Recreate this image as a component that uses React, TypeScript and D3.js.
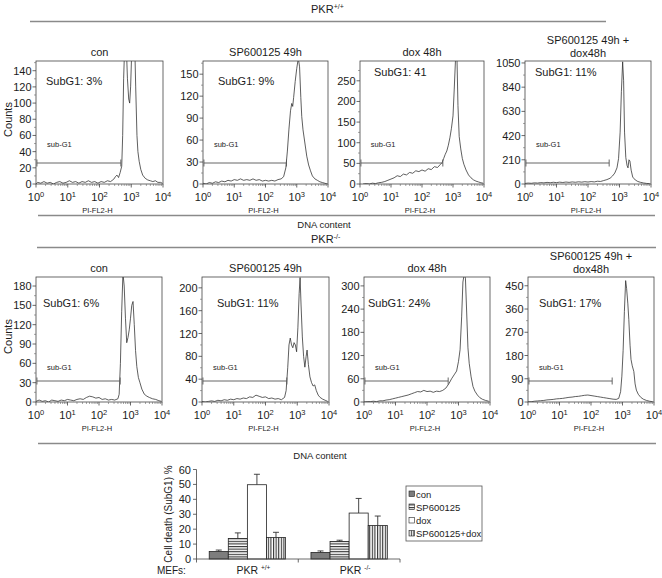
import React from "react";
import * as d3 from "d3";

type Pt = [number, number]; // [log10 PI-FL2-H, counts]

// ---------- Histogram data ----------
const histWtCon: Pt[] = [[0,0],[0.05,2],[0.15,1],[0.25,3],[0.35,1],[0.45,2],[0.55,0],[0.65,2],[0.75,3],[0.85,1],[0.95,2],[1.05,4],[1.15,2],[1.25,3],[1.35,1],[1.45,3],[1.55,2],[1.65,4],[1.75,2],[1.85,3],[1.95,1],[2.05,3],[2.15,2],[2.25,4],[2.35,3],[2.45,6],[2.5,9],[2.55,11],[2.6,8],[2.65,14],[2.7,22],[2.73,60],[2.76,130],[2.8,180],[2.84,175],[2.88,130],[2.92,105],[2.95,100],[2.98,120],[3.02,170],[3.06,200],[3.1,190],[3.14,120],[3.18,60],[3.21,40],[3.25,28],[3.3,18],[3.36,11],[3.44,7],[3.52,5],[3.6,4],[3.68,3],[3.76,4],[3.84,2],[3.92,2],[3.98,1]];
const histWtSp: Pt[] = [[0,1],[0.1,0],[0.2,2],[0.3,1],[0.4,3],[0.5,2],[0.6,4],[0.7,3],[0.8,5],[0.9,4],[1.0,6],[1.1,5],[1.2,7],[1.3,5],[1.4,6],[1.5,5],[1.6,7],[1.7,5],[1.8,6],[1.9,4],[2.0,5],[2.1,4],[2.2,5],[2.3,4],[2.4,6],[2.5,7],[2.58,10],[2.65,22],[2.7,45],[2.75,75],[2.8,100],[2.84,110],[2.87,106],[2.9,118],[2.95,140],[3.0,158],[3.05,172],[3.09,160],[3.13,118],[3.16,92],[3.2,74],[3.26,56],[3.32,38],[3.38,26],[3.44,18],[3.5,11],[3.58,7],[3.66,5],[3.74,3],[3.82,2],[3.9,1],[3.98,0]];
const histWtDox: Pt[] = [[0.1,0],[0.2,1],[0.3,0],[0.4,2],[0.5,1],[0.6,3],[0.7,4],[0.8,6],[0.9,9],[1.0,12],[1.1,15],[1.2,20],[1.3,18],[1.4,24],[1.5,22],[1.6,28],[1.7,26],[1.8,32],[1.9,30],[2.0,34],[2.1,31],[2.2,37],[2.3,35],[2.4,42],[2.5,40],[2.6,48],[2.65,52],[2.7,62],[2.75,72],[2.8,80],[2.85,94],[2.9,112],[2.95,135],[3.0,165],[3.04,230],[3.08,300],[3.1,320],[3.13,300],[3.16,190],[3.2,115],[3.25,85],[3.3,62],[3.35,48],[3.42,34],[3.5,22],[3.58,15],[3.66,10],[3.74,7],[3.82,5],[3.9,3],[3.97,2]];
const histWtSpDox: Pt[] = [[0,5],[0.1,8],[0.2,6],[0.3,10],[0.4,8],[0.5,12],[0.6,10],[0.7,14],[0.8,11],[0.9,15],[1.0,12],[1.1,16],[1.2,13],[1.3,17],[1.4,14],[1.5,18],[1.6,15],[1.7,19],[1.8,16],[1.9,20],[2.0,17],[2.1,21],[2.2,18],[2.3,24],[2.4,22],[2.5,30],[2.6,38],[2.7,50],[2.78,70],[2.85,95],[2.92,140],[2.97,220],[3.02,450],[3.06,800],[3.1,1060],[3.13,900],[3.16,450],[3.2,230],[3.24,160],[3.27,140],[3.3,210],[3.33,200],[3.37,120],[3.42,60],[3.5,35],[3.58,22],[3.66,15],[3.76,9],[3.86,5],[3.96,3]];
const histKoCon: Pt[] = [[0,1],[0.1,3],[0.2,1],[0.3,2],[0.4,0],[0.5,3],[0.6,2],[0.7,1],[0.8,3],[0.9,2],[1.0,4],[1.1,3],[1.2,2],[1.3,4],[1.4,5],[1.5,4],[1.6,7],[1.7,9],[1.8,8],[1.9,6],[2.0,7],[2.1,4],[2.2,5],[2.3,3],[2.4,4],[2.5,3],[2.6,5],[2.64,12],[2.68,60],[2.72,140],[2.76,200],[2.8,180],[2.84,130],[2.88,92],[2.92,100],[2.96,112],[3.0,130],[3.04,150],[3.08,156],[3.12,120],[3.16,80],[3.2,55],[3.25,38],[3.3,30],[3.36,20],[3.44,12],[3.52,9],[3.6,7],[3.7,5],[3.8,4],[3.9,2],[3.98,1]];
const histKoSp: Pt[] = [[0,1],[0.1,0],[0.2,1],[0.3,2],[0.4,1],[0.5,3],[0.6,2],[0.7,4],[0.8,3],[0.9,5],[1.0,4],[1.1,6],[1.2,5],[1.3,7],[1.4,6],[1.5,9],[1.6,8],[1.7,12],[1.8,10],[1.9,8],[2.0,9],[2.1,6],[2.2,7],[2.3,5],[2.4,6],[2.5,4],[2.6,8],[2.65,20],[2.7,60],[2.74,100],[2.78,112],[2.82,100],[2.86,95],[2.9,104],[2.94,100],[2.98,88],[3.02,130],[3.06,190],[3.09,218],[3.12,170],[3.16,114],[3.2,80],[3.24,61],[3.28,80],[3.31,91],[3.35,66],[3.4,44],[3.45,34],[3.5,28],[3.55,30],[3.6,20],[3.66,12],[3.72,8],[3.8,5],[3.88,3],[3.96,1]];
const histKoDox: Pt[] = [[0,0],[0.1,1],[0.2,1],[0.3,2],[0.4,1],[0.5,3],[0.6,3],[0.7,5],[0.8,6],[0.9,8],[1.0,10],[1.1,12],[1.2,14],[1.3,16],[1.4,18],[1.5,21],[1.6,24],[1.7,27],[1.8,26],[1.9,30],[2.0,27],[2.1,28],[2.2,25],[2.3,28],[2.4,27],[2.5,30],[2.6,36],[2.7,48],[2.78,60],[2.86,70],[2.94,80],[3.0,105],[3.05,135],[3.1,220],[3.14,310],[3.18,330],[3.22,320],[3.26,230],[3.3,140],[3.34,100],[3.4,65],[3.46,40],[3.52,28],[3.6,18],[3.68,11],[3.76,7],[3.86,4],[3.96,2]];
const histKoSpDox: Pt[] = [[0,1],[0.1,1],[0.2,3],[0.3,4],[0.4,5],[0.5,6],[0.6,8],[0.7,9],[0.8,10],[0.9,12],[1.0,13],[1.1,14],[1.2,16],[1.3,18],[1.4,19],[1.5,21],[1.6,22],[1.7,24],[1.8,26],[1.9,27],[2.0,25],[2.1,23],[2.2,21],[2.3,19],[2.4,17],[2.5,15],[2.6,13],[2.7,11],[2.8,10],[2.88,14],[2.94,40],[2.98,100],[3.02,200],[3.06,350],[3.1,470],[3.13,440],[3.17,380],[3.2,320],[3.24,220],[3.27,165],[3.31,140],[3.36,118],[3.4,70],[3.44,46],[3.5,30],[3.58,18],[3.66,11],[3.76,6],[3.86,3],[3.96,1]];

// ---------- Panel labels & axes ----------
const panelTitles = [["con"], ["SP600125 49h"], ["dox 48h"], ["SP600125 49h +", "dox48h"]];
const subG1Wt = ["SubG1: 3%", "SubG1: 9%", "SubG1: 41", "SubG1: 11%"];
const subG1Ko = ["SubG1: 6%", "SubG1: 11%", "SubG1: 24%", "SubG1: 17%"];
const yMaxWt = [152, 168, 298, 1067];
const yMaxKo = [194, 219, 323, 484];
const yTicksWt = [[0,20,40,60,80,100,120,140],[0,30,60,90,120,150],[0,50,100,150,200,250],[0,210,420,630,840,1050]];
const yTicksKo = [[0,30,60,90,120,150,180],[0,40,80,120,160,200],[0,60,120,180,240,300],[0,90,180,270,360,450]];
const xTickExponents = [0, 1, 2, 3, 4];
const gateRange = [1.07, 470];
const genotypeSups = ["+/+", "-/-"];

// ---------- Bar chart data ----------
const barGroups = ["wt", "ko"];
const barGroupSups = ["+/+", "-/-"];
const barSeries = ["con", "SP600125", "dox", "SP600125+dox"];
const barValuesWt = [5.0, 13.8, 49.8, 14.4];
const barValuesKo = [4.4, 11.8, 30.8, 22.4];
const barErrWt = [1.0, 3.7, 7.0, 3.5];
const barErrKo = [1.0, 0.8, 9.8, 6.4];
const barYTicks = [0, 10, 20, 30, 40, 50, 60];

const FONT = "'Liberation Sans', Arial, Helvetica, sans-serif";
const TXT = "#1c1c1c";

const rows = [
  { data: [histWtCon, histWtSp, histWtDox, histWtSpDox], yMax: yMaxWt, yTicks: yTicksWt, sub: subG1Wt,
    top: 61, bottom: 184, xs: [36, 203, 360, 525], ws: [127, 125, 124, 126],
    subX: [10, 15, 14, 10], subY: [24, 24, 15, 15], labelDy: 37 },
  { data: [histKoCon, histKoSp, histKoDox, histKoSpDox], yMax: yMaxKo, yTicks: yTicksKo, sub: subG1Ko,
    top: 277, bottom: 402, xs: [36, 202, 364, 528], ws: [126, 127, 126, 126],
    subX: [7, 15, 4, 11], subY: [30, 30, 30, 30], labelDy: 32 },
];

function Histogram(props: any) {
  const { id, x0, w, top, bottom, data, yMax, yTicks, title, subText, subX, subY, labelDy } = props;
  const x = d3.scaleLog().domain([1, 1e4]).range([x0, x0 + w]);
  const y = d3.scaleLinear().domain([0, yMax]).range([bottom, top]);
  const line = d3.line<Pt>().x(d => x(Math.pow(10, d[0]))).y(d => y(d[1]));
  const minorX: number[] = [];
  for (let k = 0; k < 4; k++) for (let m = 2; m < 10; m++) minorX.push(m * Math.pow(10, k));
  const step = yTicks[1] - yTicks[0];
  const minorY: number[] = [];
  for (let v = step / 2; v < yMax; v += step) minorY.push(v);
  const cx = x0 + w / 2;
  const gy = bottom - 21;
  return (
    <g>
      <defs>
        <clipPath id={id}><rect x={x0} y={top} width={w} height={bottom - top} /></clipPath>
      </defs>
      {title.length === 1 ? (
        <text x={cx} y={top - 5} textAnchor="middle" fontSize={11} fill={TXT}>{title[0]}</text>
      ) : (
        <g>
          <text x={cx} y={top - 17} textAnchor="middle" fontSize={11} fill={TXT}>{title[0]}</text>
          <text x={cx} y={top - 4} textAnchor="middle" fontSize={11} fill={TXT}>{title[1]}</text>
        </g>
      )}
      <path d={line(data) || ""} fill="none" stroke="#2a2a2a" strokeWidth={0.75} clipPath={`url(#${id})`} />
      <rect x={x0} y={top} width={w} height={bottom - top} fill="none" stroke="#444" strokeWidth={0.8} />
      {yTicks.map((t: number) => (
        <g key={t}>
          <line x1={x0 - 3.5} x2={x0} y1={y(t)} y2={y(t)} stroke="#444" strokeWidth={0.8} />
          <text x={x0 - 4.5} y={y(t) + 4} textAnchor="end" fontSize={11} fill={TXT}>{t}</text>
        </g>
      ))}
      {minorY.map((t, i) => (
        <line key={i} x1={x0 - 2} x2={x0} y1={y(t)} y2={y(t)} stroke="#666" strokeWidth={0.6} />
      ))}
      {minorX.map((v, i) => (
        <line key={i} x1={x(v)} x2={x(v)} y1={bottom} y2={bottom + 2} stroke="#666" strokeWidth={0.6} />
      ))}
      {xTickExponents.map(k => (
        <g key={k}>
          <line x1={x(Math.pow(10, k))} x2={x(Math.pow(10, k))} y1={bottom} y2={bottom + 3.5} stroke="#444" strokeWidth={0.8} />
          <text x={x(Math.pow(10, k))} y={bottom + 17} textAnchor="middle" fontSize={11} fill={TXT}>
            <tspan>10</tspan><tspan dy={-4.5} fontSize={7.5}>{k}</tspan>
          </text>
        </g>
      ))}
      <text x={cx - 2} y={bottom + 29} textAnchor="middle" fontSize={7.5} fill={TXT}>PI-FL2-H</text>
      <line x1={x(gateRange[0])} x2={x(gateRange[1])} y1={gy} y2={gy} stroke="#555" strokeWidth={0.9} />
      <line x1={x(gateRange[0])} x2={x(gateRange[0])} y1={gy - 3.5} y2={gy + 3.5} stroke="#555" strokeWidth={0.9} />
      <line x1={x(gateRange[1])} x2={x(gateRange[1])} y1={gy - 3.5} y2={gy + 3.5} stroke="#555" strokeWidth={0.9} />
      <text x={x(Math.pow(10, 0.35))} y={bottom - labelDy} fontSize={7.5} fill={TXT}>sub-G1</text>
      <text x={x0 + subX} y={top + subY} fontSize={11} fill={TXT}>{subText}</text>
    </g>
  );
}

function BarChart() {
  const xb = d3.scaleBand().domain(barGroups).range([196.5, 400]).paddingInner(0.25).paddingOuter(0.125);
  const xs = d3.scaleBand().domain(barSeries).range([0, xb.bandwidth()]);
  const yb = d3.scaleLinear().domain([0, 60]).range([559, 469.5]);
  const fills = ["#7d7d7d", "url(#hstripe)", "#ffffff", "url(#vstripe)"];
  const vals = [barValuesWt, barValuesKo];
  const errs = [barErrWt, barErrKo];
  const legendY = [494, 507, 520.5, 533.5];
  return (
    <g>
      <defs>
        <pattern id="hstripe" width={4} height={2.6} patternUnits="userSpaceOnUse">
          <rect width={4} height={2.6} fill="#fff" />
          <rect y={0} width={4} height={1.1} fill="#333" />
        </pattern>
        <pattern id="vstripe" width={2.6} height={4} patternUnits="userSpaceOnUse">
          <rect width={2.6} height={4} fill="#fff" />
          <rect x={0} width={1.1} height={4} fill="#333" />
        </pattern>
      </defs>
      {barGroups.map((g, gi) => (
        <g key={g}>
          {barSeries.map((s, si) => {
            const bx = (xb(g) as number) + (xs(s) as number);
            const bw = xs.bandwidth();
            const v = vals[gi][si];
            const e = errs[gi][si];
            const mx = bx + bw / 2;
            return (
              <g key={s}>
                <line x1={mx} x2={mx} y1={yb(v)} y2={yb(v + e)} stroke="#333" strokeWidth={0.9} />
                <line x1={mx - 3} x2={mx + 3} y1={yb(v + e)} y2={yb(v + e)} stroke="#333" strokeWidth={0.9} />
                <rect x={bx} y={yb(v)} width={bw} height={yb(0) - yb(v)} fill={fills[si]} stroke="#222" strokeWidth={0.8} />
              </g>
            );
          })}
        </g>
      ))}
      <line x1={196.5} x2={196.5} y1={yb(60)} y2={yb(0)} stroke="#444" strokeWidth={0.8} />
      <line x1={196.5} x2={400} y1={yb(0)} y2={yb(0)} stroke="#444" strokeWidth={0.8} />
      {barYTicks.map(t => (
        <g key={t}>
          <line x1={193} x2={196.5} y1={yb(t)} y2={yb(t)} stroke="#444" strokeWidth={0.8} />
          <text x={191} y={yb(t) + 4} textAnchor="end" fontSize={11} fill={TXT}>{t}</text>
        </g>
      ))}
      {[196.5, (xb("ko") as number) - xb.step() * 0.125, 400].map((t, i) => (
        <line key={i} x1={t} x2={t} y1={yb(0)} y2={yb(0) + 3.5} stroke="#444" strokeWidth={0.8} />
      ))}
      <text transform={`translate(172,514) rotate(-90)`} textAnchor="middle" fontSize={10} fill={TXT}>Cell death (SubG1) %</text>
      <text x={157} y={574} fontSize={10} fill={TXT}>MEFs:</text>
      {barGroups.map((g, gi) => (
        <text key={g} x={(xb(g) as number) + xb.bandwidth() / 2 + 6} y={574} textAnchor="middle" fontSize={10.5} fill={TXT}>
          <tspan>PKR </tspan><tspan dy={-4} fontSize={6.5}>{barGroupSups[gi]}</tspan>
        </text>
      ))}
      <rect x={406} y={486} width={76} height={55} fill="#fff" stroke="#555" strokeWidth={0.8} />
      {barSeries.map((s, si) => (
        <g key={s}>
          <rect x={409} y={legendY[si] - 3} width={5.5} height={5.5} fill={fills[si]} stroke="#222" strokeWidth={0.6} />
          <text x={416} y={legendY[si] + 3.5} fontSize={9.5} fill={TXT}>{s}</text>
        </g>
      ))}
    </g>
  );
}

export default function App() {
  return (
    <svg width={662} height={578} style={{ position: "absolute", left: 0, top: 0, background: "#fff" }} fontFamily={FONT}>
      <rect width={662} height={578} fill="#fff" />
      <text x={311} y={13} fontSize={11} fill={TXT}><tspan>PKR</tspan><tspan dy={-4.5} fontSize={7}>{genotypeSups[0]}</tspan></text>
      <line x1={30} x2={606} y1={21.5} y2={21.5} stroke="#8a8a8a" strokeWidth={1.5} />
      <line x1={38} x2={655} y1={215.5} y2={215.5} stroke="#8a8a8a" strokeWidth={1.5} />
      <text x={324} y={228} textAnchor="middle" fontSize={9.5} fill={TXT}>DNA content</text>
      <text x={311} y={243} fontSize={11} fill={TXT}><tspan>PKR</tspan><tspan dy={-4.5} fontSize={7}>{genotypeSups[1]}</tspan></text>
      <line x1={37} x2={656} y1={247.5} y2={247.5} stroke="#8a8a8a" strokeWidth={1.5} />
      <line x1={38} x2={656} y1={443.5} y2={443.5} stroke="#8a8a8a" strokeWidth={1.5} />
      <text x={320} y={459} textAnchor="middle" fontSize={9.5} fill={TXT}>DNA content</text>
      {rows.map((r, ri) => (
        <g key={ri}>
          <text transform={`translate(12,${(r.top + r.bottom) / 2 - 3}) rotate(-90)`} textAnchor="middle" fontSize={11} fill={TXT}>Counts</text>
          {r.data.map((d, pi) => (
            <Histogram key={pi} id={`clip-${ri}-${pi}`} x0={r.xs[pi]} w={r.ws[pi]} top={r.top} bottom={r.bottom}
              data={d} yMax={r.yMax[pi]} yTicks={r.yTicks[pi]} title={panelTitles[pi]} subText={r.sub[pi]}
              subX={r.subX[pi]} subY={r.subY[pi]} labelDy={r.labelDy} />
          ))}
        </g>
      ))}
      <BarChart />
    </svg>
  );
}
